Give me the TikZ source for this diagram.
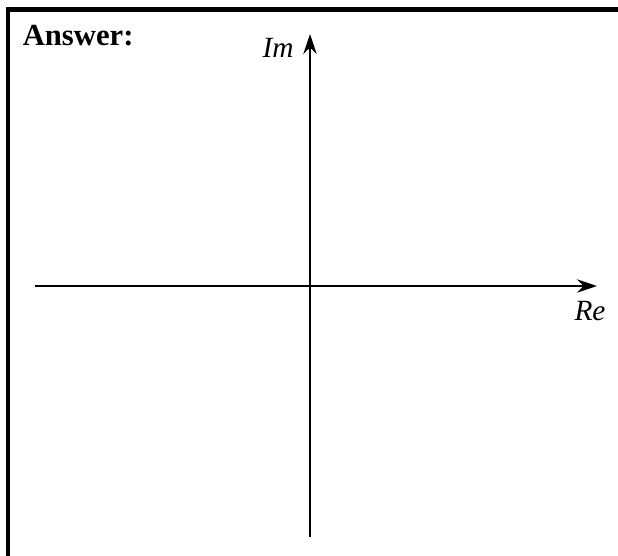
\documentclass[tikz,border=0pt]{standalone}
\usepackage{fontspec}
\setmainfont{Liberation Serif}
\usetikzlibrary{positioning}
\usetikzlibrary{arrows.meta}

\begin{document}
\begin{tikzpicture}[
  x=0.75pt, y=-0.75pt,
  axis/.style={line width=2.2pt, -{Stealth[length=15pt,width=10pt]}},
  frame/.style={line width=3.2pt},
  axislabel/.style={font=\fontsize{22}{26}\selectfont\itshape, inner sep=0pt},
]
  \useasboundingbox (0,0) rectangle (618,556);
  \clip (0,0) rectangle (618,556);
  \draw[frame] (8,9.5) rectangle (650,600);
  \node[font=\fontsize{23}{27}\selectfont\bfseries, anchor=west, inner sep=0pt] (answer) at (22.5,36) {Answer:};
  % axes
  \coordinate (origin) at (310,286);
  \coordinate (re start) at (35,286);
  \coordinate (re end) at (597,286);
  \coordinate (im start) at (310,537);
  \coordinate (im end) at (310,34);
  \draw[axis] (re start) -- (re end);
  \draw[axis] (im start) -- (im end);
  \node[axislabel] (im) at (278,48) {Im};
  \node[axislabel] (re) at (590,311) {Re};
\end{tikzpicture}
\end{document}
